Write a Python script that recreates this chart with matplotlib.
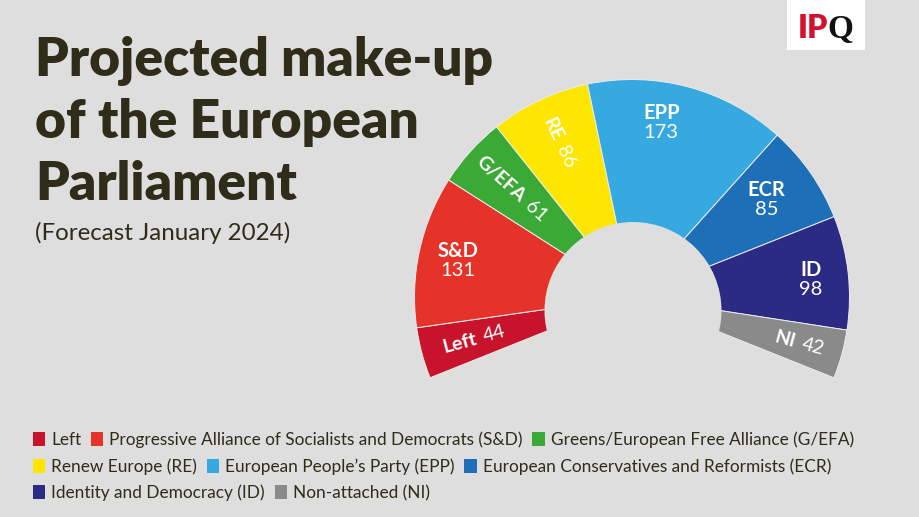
import matplotlib
matplotlib.use('Agg')
import matplotlib.pyplot as plt
from matplotlib.patches import Wedge, Circle, Rectangle, Patch
import numpy as np

# ---------------- data ----------------
parties = ['Left', 'S&D', 'G/EFA', 'RE', 'EPP', 'ECR', 'ID', 'NI']
seats = [44, 131, 61, 86, 173, 85, 98, 42]
colors = ['#c7142c', '#e5332a', '#3aa935', '#ffe600', '#36a9e1', '#1d6fb8', '#2b2a85', '#8a8a8a']
legend_names = ['Left',
                'Progressive Alliance of Socialists and Democrats (S&D)',
                'Greens/European Free Alliance (G/EFA)',
                'Renew Europe (RE)',
                'European People\u2019s Party (EPP)',
                'European Conservatives and Reformists (ECR)',
                'Identity and Democracy (ID)',
                'Non-attached (NI)']
legend_rows = [[0, 1, 2], [3, 4, 5], [6, 7]]
title_lines = ['Projected make-up', 'of the European', 'Parliament']
subtitle = '(Forecast January 2024)'

BG = '#dddedd'
INK = '#2f2c19'
FONT = 'Lato'

W, H = 920, 517
fig = plt.figure(figsize=(9.2, 5.17), dpi=100, facecolor=BG)
ax = fig.add_axes([0, 0, 1, 1])
ax.set_xlim(0, W)
ax.set_ylim(0, H)
ax.axis('off')
ax.set_facecolor(BG)

# ---------------- hemicycle ----------------
cx, cy = 632, H - 297
R = 217.5
start, end = 201.8, -21.8
scale = (start - end) / sum(seats)
mids = []
theta = start
for v, c in zip(seats, colors):
    t2 = theta
    t1 = theta - v * scale
    ax.add_patch(Wedge((cx, cy), R, t1, t2, facecolor=c, edgecolor='#ececec',
                       linewidth=0.7, zorder=2))
    mids.append((t1 + t2) / 2)
    theta = t1
ax.add_patch(Circle((633, H - 310.5), 88.5, facecolor=BG, edgecolor='none', zorder=3))

# rotated labels: split radius
rot_labels = {'Left': 157, 'G/EFA': 143, 'RE': 170, 'NI': 173}
# horizontal labels: (radius, angle adjust)
hor_labels = {'S&D': (178, 0), 'EPP': (178, 5.6), 'ECR': (167, 1.6), 'ID': (180, -0.5)}

for name, v, m in zip(parties, seats, mids):
    mr = np.radians(m)
    if name in rot_labels:
        rs = rot_labels[name]
        px, py = cx + rs * np.cos(mr), cy + rs * np.sin(mr)
        rot = m - 180 if m > 90 else m
        rr = np.radians(rot)
        dx, dy = np.cos(rr), np.sin(rr)
        ox, oy = 6 * np.sin(rr), -6 * np.cos(rr)
        ax.text(px - 3.5 * dx + ox, py - 3.5 * dy + oy, name, rotation=rot, rotation_mode='anchor',
                ha='right', va='baseline', color='white', fontsize=14, fontweight='bold',
                family=FONT, zorder=4)
        ax.text(px + 3.5 * dx + ox, py + 3.5 * dy + oy, str(v), rotation=rot, rotation_mode='anchor',
                ha='left', va='baseline', color='white', fontsize=14, family=FONT, zorder=4)
    else:
        rs, adj = hor_labels[name]
        a = np.radians(m + adj)
        px, py = cx + rs * np.cos(a), cy + rs * np.sin(a)
        ax.text(px, py + 2, name, ha='center', va='baseline', color='white', fontsize=14.5,
                fontweight='bold', family=FONT, zorder=4)
        ax.text(px, py - 17, str(v), ha='center', va='baseline', color='white', fontsize=14.5,
                family=FONT, zorder=4)

# ---------------- titles ----------------
for i, line in enumerate(title_lines):
    ax.text(35, H - (76 + 62 * i), line, ha='left', va='baseline', color=INK,
            fontsize=38.3, fontweight='heavy', family=FONT)
ax.text(35, H - 240, subtitle, ha='left', va='baseline', color=INK, fontsize=17.4, family=FONT)

# ---------------- logo ----------------
ax.add_patch(Rectangle((787, H - 50), 78, 50, facecolor='white', edgecolor='none', zorder=1))
ax.text(828, H - 38, 'IP', ha='right', va='baseline', color='#d2122e', fontsize=23,
        fontweight='heavy', family=FONT, zorder=2)
ax.text(827, H - 38, 'Q', ha='left', va='baseline', color='#111111', fontsize=24,
        fontweight='bold', family='Liberation Serif', zorder=2)

# ---------------- legend ----------------
row_y = [440, 467, 493]
for r, idxs in enumerate(legend_rows):
    handles = [Patch(facecolor=colors[i], edgecolor='none', label=legend_names[i]) for i in idxs]
    fig.legend(handles=handles, ncol=len(idxs), loc='center left',
               bbox_to_anchor=(33 / W, 1 - row_y[r] / H), frameon=False,
               prop={'family': FONT, 'size': 12.4}, labelcolor=INK,
               handlelength=0.72, handleheight=0.85, handletextpad=0.35,
               columnspacing=0.55, borderpad=0, borderaxespad=0)

fig.savefig('out.png', dpi=100, facecolor=BG)
